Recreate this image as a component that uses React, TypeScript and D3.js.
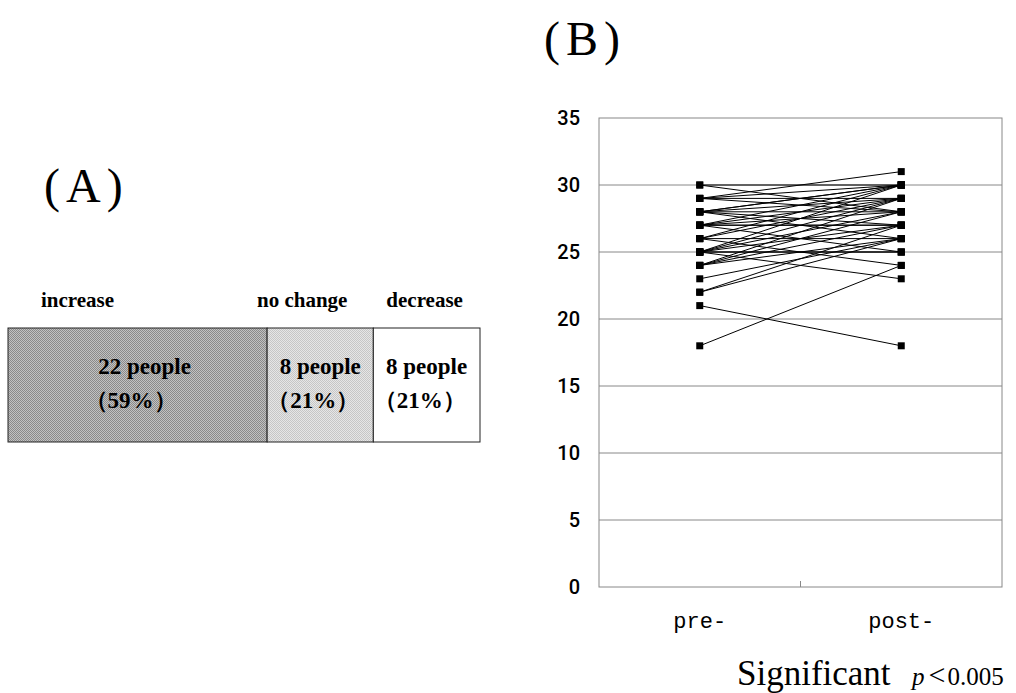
import React from "react";
import * as d3 from "d3";

// Panel A: change categories
const changeCategories = ["increase", "no change", "decrease"];
const changeCounts = [22, 8, 8];
const changePercents = ["59%", "21%", "21%"];
// drawn width share of each segment
const segmentShare = [54.9, 22.5, 22.6];

// Panel B: paired pre/post scores
const timepoints = ["pre-", "post-"];
const preScores = [
  18, 21, 22, 22, 23, 24, 24, 24, 25, 25, 25, 25, 25, 25, 26, 26, 26, 27, 27,
  27, 27, 27, 28, 28, 28, 28, 28, 28, 29, 29, 29, 29, 30, 30, 26, 27, 25, 24,
];
const postScores = [
  24, 18, 26, 27, 26, 28, 29, 26, 30, 28, 27, 23, 25, 29, 30, 26, 24, 29, 27,
  25, 30, 28, 30, 28, 29, 27, 26, 30, 31, 29, 28, 30, 30, 28, 29, 27, 25, 27,
];
const yTicks = [0, 5, 10, 15, 20, 25, 30, 35];

// checker texture colours per segment [dark, light]
const segTexture = [
  ["#8a8a8a", "#c2c2c2"],
  ["#c6c6c6", "#e6e6e6"],
  ["#ffffff", "#ffffff"],
];
const labelShift = [-60, -18, -2];

export default function App() {
  const W = 1016;
  const H = 693;

  // panel A scale
  const barX = d3.scaleLinear().domain([0, d3.sum(segmentShare)]).range([8, 480]);
  const cum = d3.cumsum(segmentShare);
  const segs = changeCategories.map((c, i) => ({
    cat: c,
    count: changeCounts[i],
    pct: changePercents[i],
    x0: barX(i === 0 ? 0 : cum[i - 1]),
    x1: barX(cum[i]),
  }));
  const barTop = 328;
  const barBottom = 442;

  // panel B scales
  const left = 599;
  const right = 1002;
  const top = 118;
  const bottom = 587;
  const x = d3.scalePoint().domain(timepoints).range([left, right]).padding(0.5);
  const y = d3.scaleLinear().domain([0, 35]).range([bottom, top]);
  const line = d3
    .line<[string, number]>()
    .x((d) => x(d[0]) as number)
    .y((d) => y(d[1]));
  const pairs = preScores.map((p, i) => [
    ["pre-", p],
    ["post-", postScores[i]],
  ]) as [string, number][][];
  const ms = 7;

  return (
    <svg
      width={W}
      height={H}
      style={{ position: "absolute", left: 0, top: 0, background: "#fff" }}
    >
      <defs>
        {segTexture.map((c, i) => (
          <pattern key={i} id={`tex${i}`} width={2} height={2} patternUnits="userSpaceOnUse">
            <rect width={2} height={2} fill={c[1]} />
            <rect width={1} height={1} fill={c[0]} />
            <rect x={1} y={1} width={1} height={1} fill={c[0]} />
          </pattern>
        ))}
      </defs>

      {/* titles */}
      <text x={44} y={202} fontFamily="Liberation Serif, serif" fontSize={48} letterSpacing={6}>
        (A)
      </text>
      <text x={544} y={55} fontFamily="Liberation Serif, serif" fontSize={48} letterSpacing={6}>
        (B)
      </text>

      {/* panel A */}
      {segs.map((s, i) => {
        const cx = (s.x0 + s.x1) / 2;
        return (
          <g key={s.cat} fontFamily="Liberation Serif, serif" fontWeight="bold">
            <text x={cx + labelShift[i]} y={307} fontSize={21} textAnchor="middle">
              {s.cat}
            </text>
            <rect
              x={s.x0}
              y={barTop}
              width={s.x1 - s.x0}
              height={barBottom - barTop}
              fill={`url(#tex${i})`}
              stroke="#222"
              strokeWidth={1}
            />
            <text x={cx + (i === 0 ? 7 : 0)} y={374} fontSize={23} textAnchor="middle">
              {s.count} people
            </text>
            <text x={cx - 7} y={408} fontSize={23} textAnchor="middle">
              {"（" + s.pct + "）"}
            </text>
          </g>
        );
      })}

      {/* panel B */}
      <rect x={left} y={top} width={right - left} height={bottom - top} fill="none" stroke="#888" />
      {yTicks
        .filter((t) => t > 0 && t < 35)
        .map((t) => (
          <line key={t} x1={left} x2={right} y1={y(t)} y2={y(t)} stroke="#888" strokeWidth={1} />
        ))}
      <line x1={(left + right) / 2} x2={(left + right) / 2} y1={bottom} y2={bottom - 6} stroke="#888" />
      {yTicks.map((t) => (
        <text
          key={t}
          x={580}
          y={y(t) + 7}
          textAnchor="end"
          fontFamily="Roboto, sans-serif"
          fontWeight={500}
          fontSize={20}
        >
          {t}
        </text>
      ))}
      {timepoints.map((tp) => (
        <text
          key={tp}
          x={x(tp)}
          y={628}
          textAnchor="middle"
          fontFamily="Liberation Mono, monospace"
          fontSize={22}
        >
          {tp}
        </text>
      ))}
      <g>
        {pairs.map((p, i) => (
          <path key={i} d={line(p) as string} fill="none" stroke="#000" strokeWidth={1} />
        ))}
      </g>
      <g>
        {pairs.flat().map((d, i) => (
          <rect
            key={i}
            x={(x(d[0]) as number) - ms / 2}
            y={y(d[1]) - ms / 2}
            width={ms}
            height={ms}
            fill="#000"
          />
        ))}
      </g>

      <text x={737} y={685} fontFamily="Liberation Serif, serif" fontSize={35}>
        Significant
      </text>
      <text x={912} y={685} fontFamily="Liberation Serif, serif" fontSize={25}>
        <tspan fontStyle="italic">p</tspan>
        <tspan dx={4} fontSize={30}>{"<"}</tspan>
        <tspan dx={2}>0.005</tspan>
      </text>
    </svg>
  );
}
